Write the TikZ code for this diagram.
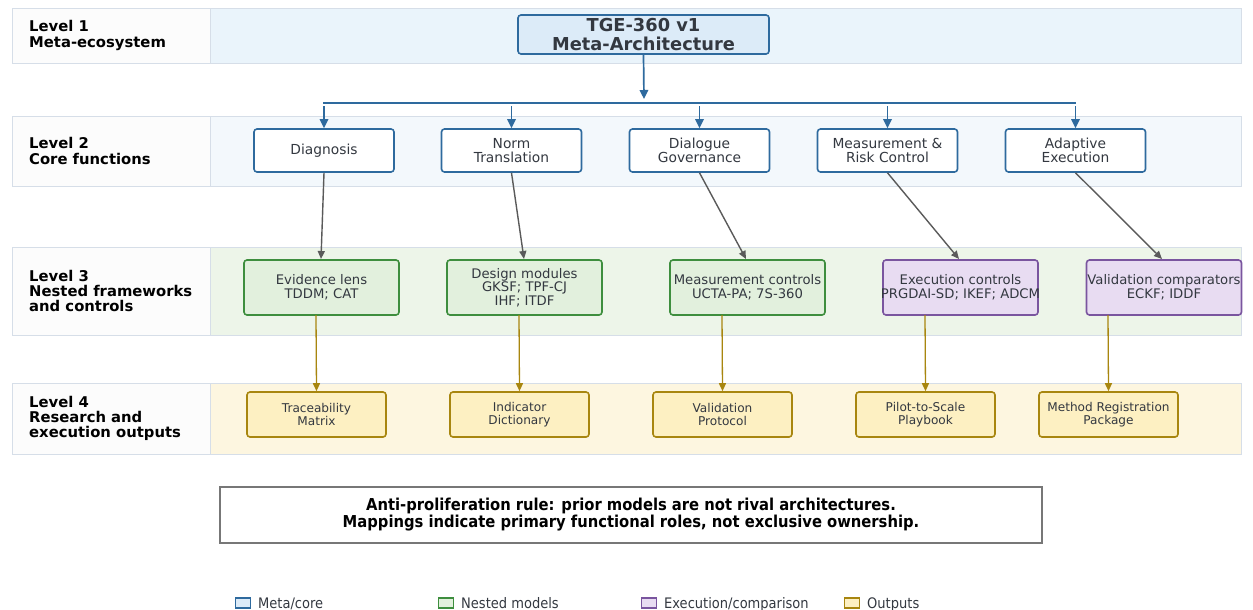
\documentclass[tikz,border=0pt]{standalone}
\usepackage{fontspec}
\setmainfont{DejaVu Sans}
\newfontfamily\condfont{DejaVu Sans Condensed}
\usetikzlibrary{arrows.meta}
\definecolor{bluebd}{HTML}{2E6A9E}
\definecolor{bluefill}{HTML}{DCEBF8}
\definecolor{greenbd}{HTML}{3E8E3E}
\definecolor{greenfill}{HTML}{E2F0DD}
\definecolor{purpbd}{HTML}{7A559F}
\definecolor{purpfill}{HTML}{E8DCF2}
\definecolor{goldbd}{HTML}{A8860F}
\definecolor{goldfill}{HTML}{FDF0C2}
\definecolor{bandA}{HTML}{EAF4FB}
\definecolor{bandB}{HTML}{F3F8FC}
\definecolor{bandC}{HTML}{EDF5E9}
\definecolor{bandD}{HTML}{FDF6E0}
\definecolor{panelbd}{HTML}{D6DEE8}
\definecolor{labfill}{HTML}{FCFCFC}
\definecolor{txt}{HTML}{333840}
\definecolor{arrgray}{HTML}{5A5A5A}
\definecolor{notebd}{HTML}{777777}
\newcommand{\cenline}[1]{\makebox[150pt][c]{#1}}
\tikzset{
  band/.style={draw=panelbd, line width=0.9pt},
  levlab/.style={anchor=west, align=left, font=\bfseries\fontsize{14.8}{15.3}\selectfont, text=black, inner sep=0pt},
  corebox/.style={draw=bluebd, fill=white, line width=1.6pt, rounded corners=3pt, minimum width=140pt, minimum height=43pt, align=center, text=txt, font=\fontsize{13.8}{14.2}\selectfont, inner sep=1pt},
  nestbox/.style={draw=greenbd, fill=greenfill, line width=1.6pt, rounded corners=3pt, minimum width=155pt, minimum height=55pt, align=center, text=txt, font=\fontsize{13.2}{13.6}\selectfont, inner sep=0pt},
  execbox/.style={nestbox, draw=purpbd, fill=purpfill},
  outbox/.style={draw=goldbd, fill=goldfill, line width=1.6pt, rounded corners=3pt, minimum width=139pt, minimum height=45pt, align=center, text=txt, font=\fontsize{12.1}{13}\selectfont, inner sep=0pt},
  bluearr/.style={draw=bluebd, line width=1.7pt, -{Triangle[length=9pt,width=8.5pt]}},
  grayarr/.style={draw=arrgray, line width=1.4pt, -{Triangle[length=8pt,width=7pt]}},
  goldarr/.style={draw=goldbd, line width=1.3pt, -{Triangle[length=8pt,width=7pt]}},
  legsq/.style={draw, line width=1.2pt, minimum width=15pt, minimum height=10pt, inner sep=0pt},
  legtxt/.style={anchor=base west, font=\condfont\fontsize{14.5}{15}\selectfont, text=txt, inner sep=0pt},
}
\begin{document}
\begin{tikzpicture}[x=1pt,y=-1pt]
\useasboundingbox (0,0) rectangle (1253,610);
% bands
\draw[band, fill=labfill] (12,8) rectangle (210,63);
\draw[band, fill=bandA] (210,8) rectangle (1241,63);
\draw[band, fill=labfill] (12,116) rectangle (210,186);
\draw[band, fill=bandB] (210,116) rectangle (1241,186);
\draw[band, fill=labfill] (12,247) rectangle (210,335);
\draw[band, fill=bandC] (210,247) rectangle (1241,335);
\draw[band, fill=labfill] (12,383) rectangle (210,454);
\draw[band, fill=bandD] (210,383) rectangle (1241,454);
% level labels
\node[levlab] (lab1) at (29,35.5) {Level 1\\Meta-ecosystem};
\node[levlab] (lab2) at (29,151) {Level 2\\Core functions};
\node[levlab] (lab3) at (29,291) {Level 3\\Nested frameworks\\and controls};
\node[levlab] (lab4) at (29,418.5) {Level 4\\Research and\\execution outputs};
% top
\node[draw=bluebd, fill=bluefill, line width=1.6pt, rounded corners=3pt, minimum width=251pt, minimum height=39pt, align=center, text=txt, font=\bfseries\fontsize{17.8}{19}\selectfont, inner sep=0pt] (top) at (643.5,34.5) {TGE-360 v1\\Meta-Architecture};
% level 2
\node[corebox] (diag) at (324,150.5) {Diagnosis};
\node[corebox] (norm) at (511.5,150.5) {Norm\\Translation};
\node[corebox] (dial) at (699.5,150.5) {Dialogue\\Governance};
\node[corebox] (meas) at (887.5,150.5) {Measurement \&\\Risk Control};
\node[corebox] (adap) at (1075.5,150.5) {Adaptive\\Execution};
% bus
\coordinate (busL) at (323,103);
\coordinate (busR) at (1076,103);
\coordinate (busM) at (644,99);
\draw[draw=bluebd, line width=1.7pt] (busL) -- (busR);
\draw[bluearr] (top.south) -- (busM);
\foreach \n in {diag,norm,dial,meas,adap}{
  \draw[bluearr] (\n.north |- 0,106) -- (\n.north);
}
% level 3
\node[nestbox] (evid) at (321.5,287.5) {Evidence lens\\TDDM; CAT};
\node[nestbox] (desi) at (524.5,287.5) {Design modules\\GKSF; TPF-CJ\\IHF; ITDF};
\node[nestbox] (mctl) at (747.5,287.5) {Measurement controls\\UCTA-PA; 7S-360};
\node[execbox] (ectl) at (960.5,287.5) {\cenline{Execution controls}\\\cenline{PRGDAI-SD; IKEF; ADCM}};
\node[execbox] (vcmp) at (1164,287.5) {\cenline{Validation comparators}\\\cenline{ECKF; IDDF}};
\draw[grayarr] (diag.south) -- (321,259);
\draw[grayarr] (norm.south) -- (524,259);
\draw[grayarr] (dial.south) -- (746,259);
\draw[grayarr] (meas.south) -- (959,259);
\draw[grayarr] (adap.south) -- (1162,259);
% level 4
\node[outbox] (trac) at (316.5,414.5) {Traceability\\Matrix};
\node[outbox] (indi) at (519.5,414.5) {Indicator\\Dictionary};
\node[outbox] (valp) at (722.5,414.5) {Validation\\Protocol};
\node[outbox] (pilo) at (925.5,414.5) {Pilot-to-Scale\\Playbook};
\node[outbox] (meth) at (1108.5,414.5) {Method Registration\\Package};
\draw[goldarr] (316,315) -- (trac.north);
\draw[goldarr] (519,315) -- (indi.north);
\draw[goldarr] (722,315) -- (valp.north);
\draw[goldarr] (925,315) -- (pilo.north);
\draw[goldarr] (1108,315) -- (meth.north);
% note
\node[draw=notebd, line width=1.4pt, fill=white, minimum width=822pt, minimum height=56pt, align=center, font=\condfont\bfseries\fontsize{16.4}{17}\selectfont, text=black, inner sep=0pt] (note) at (631,515) {Anti-proliferation rule: prior models are not rival architectures.\\Mappings indicate primary functional roles, not exclusive ownership.};
% legend
\node[legsq, draw=bluebd, fill=bluefill] (lg1) at (243,603) {};
\node[legtxt] (lt1) at (258,608) {Meta/core};
\node[legsq, draw=greenbd, fill=greenfill] (lg2) at (446,603) {};
\node[legtxt] (lt2) at (461,608) {Nested models};
\node[legsq, draw=purpbd, fill=purpfill] (lg3) at (649,603) {};
\node[legtxt] (lt3) at (664,608) {Execution/comparison};
\node[legsq, draw=goldbd, fill=goldfill] (lg4) at (852,603) {};
\node[legtxt] (lt4) at (867,608) {Outputs};
\end{tikzpicture}
\end{document}
